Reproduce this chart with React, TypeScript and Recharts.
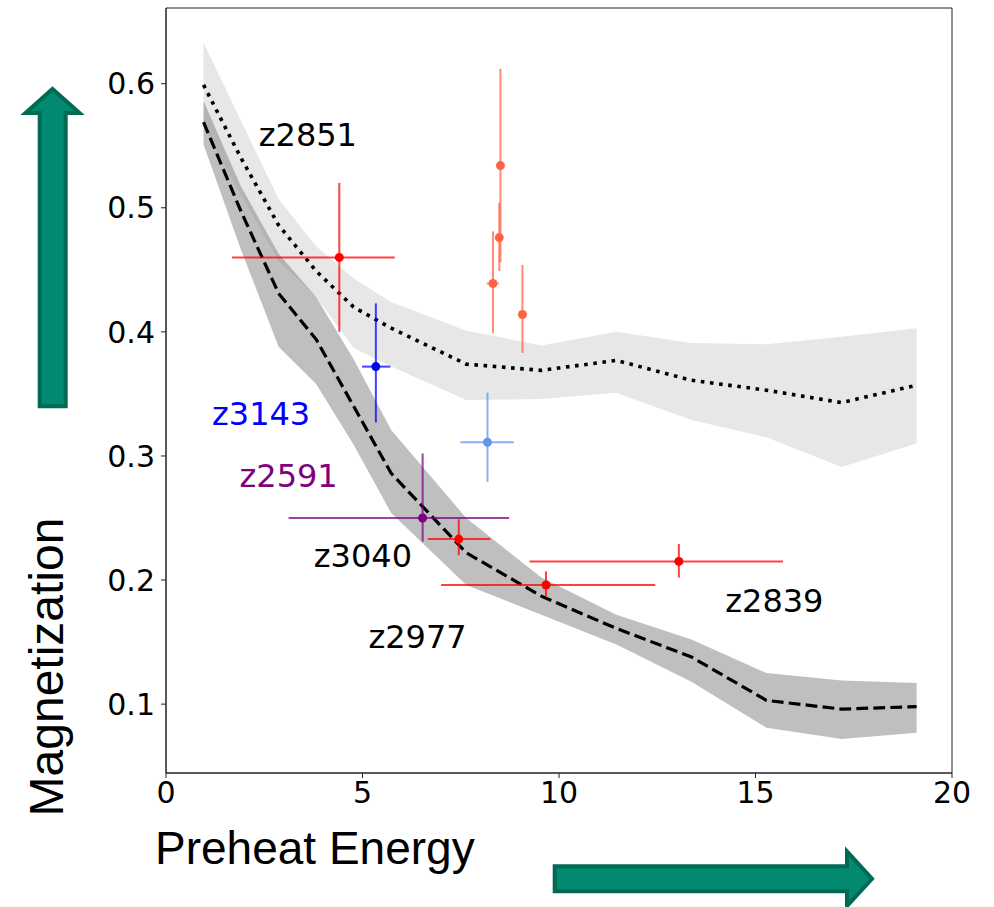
import React from "react";
import { Area, ComposedChart, ErrorBar, Line, ReferenceArea, Scatter, XAxis, YAxis } from "recharts";

// simulated curves, sampled on the same energy grid
const energy = [0.955, 1.91, 2.865, 3.82, 4.775, 5.73, 7.64, 9.55, 11.46, 13.37, 15.28, 17.19, 19.1];
const upperMean = [0.599, 0.54, 0.486, 0.449, 0.42, 0.403, 0.374, 0.369, 0.377, 0.361, 0.353, 0.343, 0.357];
const upperLow = [0.566, 0.51, 0.457, 0.428, 0.387, 0.372, 0.345, 0.346, 0.351, 0.329, 0.315, 0.291, 0.31];
const upperHigh = [0.633, 0.57, 0.507, 0.469, 0.443, 0.424, 0.401, 0.389, 0.4, 0.391, 0.39, 0.396, 0.403];
const lowerMean = [0.569, 0.497, 0.431, 0.394, 0.34, 0.286, 0.222, 0.187, 0.161, 0.138, 0.103, 0.096, 0.098];
const lowerLow = [0.551, 0.466, 0.388, 0.358, 0.309, 0.254, 0.196, 0.172, 0.148, 0.118, 0.081, 0.072, 0.077];
const lowerHigh = [0.586, 0.517, 0.463, 0.428, 0.378, 0.321, 0.25, 0.202, 0.172, 0.152, 0.125, 0.119, 0.117];

// measured shots: x, y and [minus, plus] errors
const redX = [4.41, 7.45, 9.67, 13.05];
const redY = [0.46, 0.233, 0.196, 0.215];
const redXErr = [[2.73, 1.41], [0.79, 0.8], [2.67, 2.78], [3.8, 2.65]];
const redYErr = [[0.06, 0.06], [0.013, 0.016], [0.01, 0.011], [0.013, 0.014]];

const tomatoX = [8.51, 8.48, 8.32, 9.07];
const tomatoY = [0.534, 0.476, 0.439, 0.414];
const tomatoXErr = [[0, 0], [0, 0], [0.16, 0.15], [0, 0]];
const tomatoYErr = [[0.078, 0.078], [0.027, 0.028], [0.04, 0.042], [0.031, 0.04]];

const blueX = [5.34];
const blueY = [0.372];
const blueXErr = [[0.35, 0.37]];
const blueYErr = [[0.045, 0.051]];

const cornflowerX = [8.18];
const cornflowerY = [0.311];
const cornflowerXErr = [[0.69, 0.67]];
const cornflowerYErr = [[0.032, 0.04]];

const purpleX = [6.53];
const purpleY = [0.25];
const purpleXErr = [[3.41, 2.2]];
const purpleYErr = [[0.019, 0.052]];

// shot labels (left edge, baseline)
const tagNames = ["z2851", "z3143", "z2591", "z3040", "z2977", "z2839"];
const tagX = [2.36, 1.17, 1.87, 3.76, 5.15, 14.23];
const tagY = [0.55, 0.3246, 0.275, 0.2105, 0.145, 0.1743];
const tagColors = ["#000000", "#0000ff", "#800080", "#000000", "#000000", "#000000"];

const xTicks = [0, 5, 10, 15, 20];
const yTicks = [0.1, 0.2, 0.3, 0.4, 0.5, 0.6];
const xDomain: [number, number] = [0, 20];
const yDomain: [number, number] = [0.0445, 0.661];

const curves = energy.map((x, i) => ({
  x,
  upper: upperMean[i],
  upperBand: [upperLow[i], upperHigh[i]],
  lower: lowerMean[i],
  lowerBand: [lowerLow[i], lowerHigh[i]],
}));

const shots = (xs: number[], ys: number[], ex: number[][], ey: number[][]) =>
  xs.map((x, i) => ({ x, y: ys[i], ex: ex[i], ey: ey[i] }));

const tags = tagNames.map((name, i) => ({ x: tagX[i], y: tagY[i], name, color: tagColors[i] }));

const dot = (color: string) => (p: any) => <circle cx={p.cx} cy={p.cy} r={4.5} fill={color} />;

const tagText = (p: any) => (
  <text x={p.cx} y={p.cy} fill={p.payload.color} fontSize={32} fontFamily="DejaVu Sans">
    {p.payload.name}
  </text>
);

const tickStyle = { fill: "#000", fontSize: 30, fontFamily: "DejaVu Sans" };
const axisColor = "#222";
const arrowFill = "#018a70";
const arrowEdge = "#016a55";

export default function App() {
  const series = [
    { key: "red", data: shots(redX, redY, redXErr, redYErr), color: "#ff0000" },
    { key: "tomato", data: shots(tomatoX, tomatoY, tomatoXErr, tomatoYErr), color: "#ff6347" },
    { key: "blue", data: shots(blueX, blueY, blueXErr, blueYErr), color: "#0000ff" },
    { key: "cornflower", data: shots(cornflowerX, cornflowerY, cornflowerXErr, cornflowerYErr), color: "#6495ed" },
    { key: "purple", data: shots(purpleX, purpleY, purpleXErr, purpleYErr), color: "#800080" },
  ];

  return (
    <div style={{ position: "absolute", left: 0, top: 0, width: 994, height: 907, background: "#fff", overflow: "hidden" }}>
      <ComposedChart width={994} height={907} data={curves} margin={{ top: 8, right: 42, bottom: 84, left: 0 }}>
        <XAxis
          type="number"
          dataKey="x"
          domain={xDomain}
          ticks={xTicks}
          allowDataOverflow
          height={50}
          tickSize={5}
          tickMargin={4}
          tick={tickStyle}
          stroke={axisColor}
        />
        <YAxis
          type="number"
          domain={yDomain}
          ticks={yTicks}
          allowDataOverflow
          width={166}
          tickSize={5}
          tickMargin={6}
          tick={tickStyle}
          stroke={axisColor}
        />

        <Area dataKey="upperBand" type="linear" stroke="none" fill="#d3d3d3" fillOpacity={0.55} isAnimationActive={false} activeDot={false} />
        <Area dataKey="lowerBand" type="linear" stroke="none" fill="#808080" fillOpacity={0.5} isAnimationActive={false} activeDot={false} />
        <Line dataKey="upper" type="linear" stroke="#000" strokeWidth={3.6} strokeDasharray="3.6 5.6" dot={false} activeDot={false} isAnimationActive={false} />
        <Line dataKey="lower" type="linear" stroke="#000" strokeWidth={3.2} strokeDasharray="11.8 5.2" dot={false} activeDot={false} isAnimationActive={false} />

        {series.map((s) => (
          <Scatter key={s.key} data={s.data} dataKey="y" shape={dot(s.color)} isAnimationActive={false}>
            <ErrorBar dataKey="ex" direction="x" width={0} stroke={s.color} strokeWidth={2} strokeOpacity={0.75} />
            <ErrorBar dataKey="ey" direction="y" width={0} stroke={s.color} strokeWidth={2} strokeOpacity={0.75} />
          </Scatter>
        ))}

        <Scatter data={tags} dataKey="y" shape={tagText} isAnimationActive={false} />

        {/* full frame around the plot */}
        <ReferenceArea
          x1={xDomain[0]}
          x2={xDomain[1]}
          y1={yDomain[0]}
          y2={yDomain[1]}
          fill="none"
          stroke={axisColor}
          strokeWidth={1}
          ifOverflow="visible"
        />
      </ComposedChart>

      <svg width={994} height={907} style={{ position: "absolute", left: 0, top: 0, pointerEvents: "none" }}>
        <polygon
          points="52.5,89 79.5,113 65.7,113 65.7,406.3 39.7,406.3 39.7,113 25.5,113"
          fill={arrowFill}
          stroke={arrowEdge}
          strokeWidth={4}
        />
        <polygon
          points="554.7,866.3 847,866.3 847,851.5 872,878.8 847,906 847,891.3 554.7,891.3"
          fill={arrowFill}
          stroke={arrowEdge}
          strokeWidth={4}
        />
        <text
          x={63}
          y={667}
          transform="rotate(-90 63 667)"
          textAnchor="middle"
          fontSize={48}
          fontFamily="Liberation Sans"
          fill="#000"
        >
          Magnetization
        </text>
        <text x={155} y={864} fontSize={46} fontFamily="Liberation Sans" fill="#000">
          Preheat Energy
        </text>
      </svg>
    </div>
  );
}
